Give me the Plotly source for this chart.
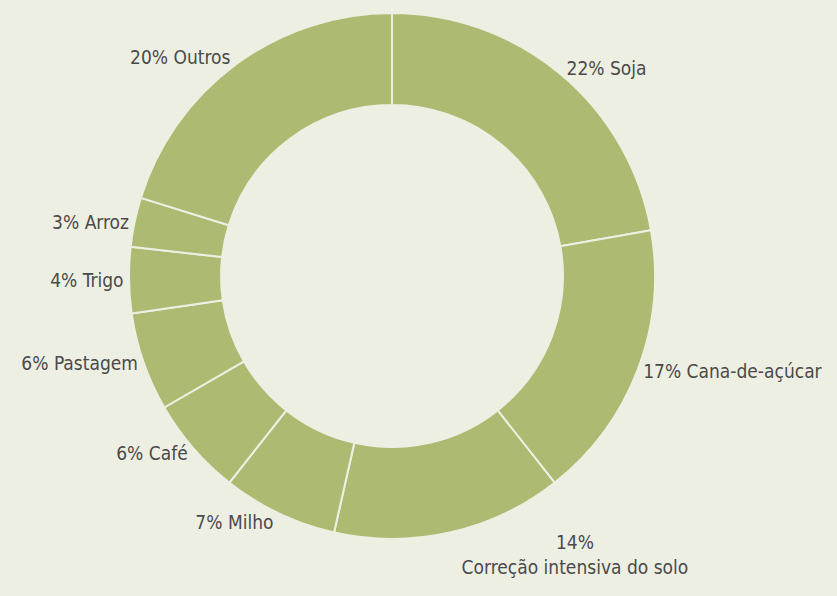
import plotly.graph_objects as go

labels = ["Soja", "Cana-de-açúcar", "Correção intensiva do solo", "Milho", "Café",
          "Pastagem", "Trigo", "Arroz", "Outros"]
values = [22, 17, 14, 7, 6, 6, 4, 3, 20]
texts = ["22% Soja", "17% Cana-de-açúcar", "14%<br>Correção intensiva do solo", "7% Milho",
         "6% Café", "6% Pastagem", "4% Trigo", "3% Arroz", "20% Outros"]

bg = "#EEEFE3"
green = "#ADBB72"

fig = go.Figure(go.Pie(
    labels=labels,
    values=values,
    text=texts,
    textinfo="text",
    textposition="outside",
    hole=0.65,
    sort=False,
    direction="clockwise",
    rotation=0,
    marker=dict(colors=[green] * len(values), line=dict(color=bg, width=2)),
    textfont=dict(family="Liberation Sans Narrow, DejaVu Sans Condensed, Noto Sans Condensed, Roboto Condensed, Roboto, sans-serif",
                  size=19, color="#4A4A4A"),
    showlegend=False,
    domain=dict(x=[(392 - 263) / 837, (392 + 263) / 837], y=[1 - 539 / 596, 1 - 13 / 596]),
))

fig.update_layout(
    width=837, height=596,
    margin=dict(l=0, r=0, t=0, b=0),
    paper_bgcolor=bg, plot_bgcolor=bg,
)

fig.write_html("out.html", config={"displayModeBar": False},
               post_script="document.body.style.margin='0';document.body.style.background='%s';" % bg)
